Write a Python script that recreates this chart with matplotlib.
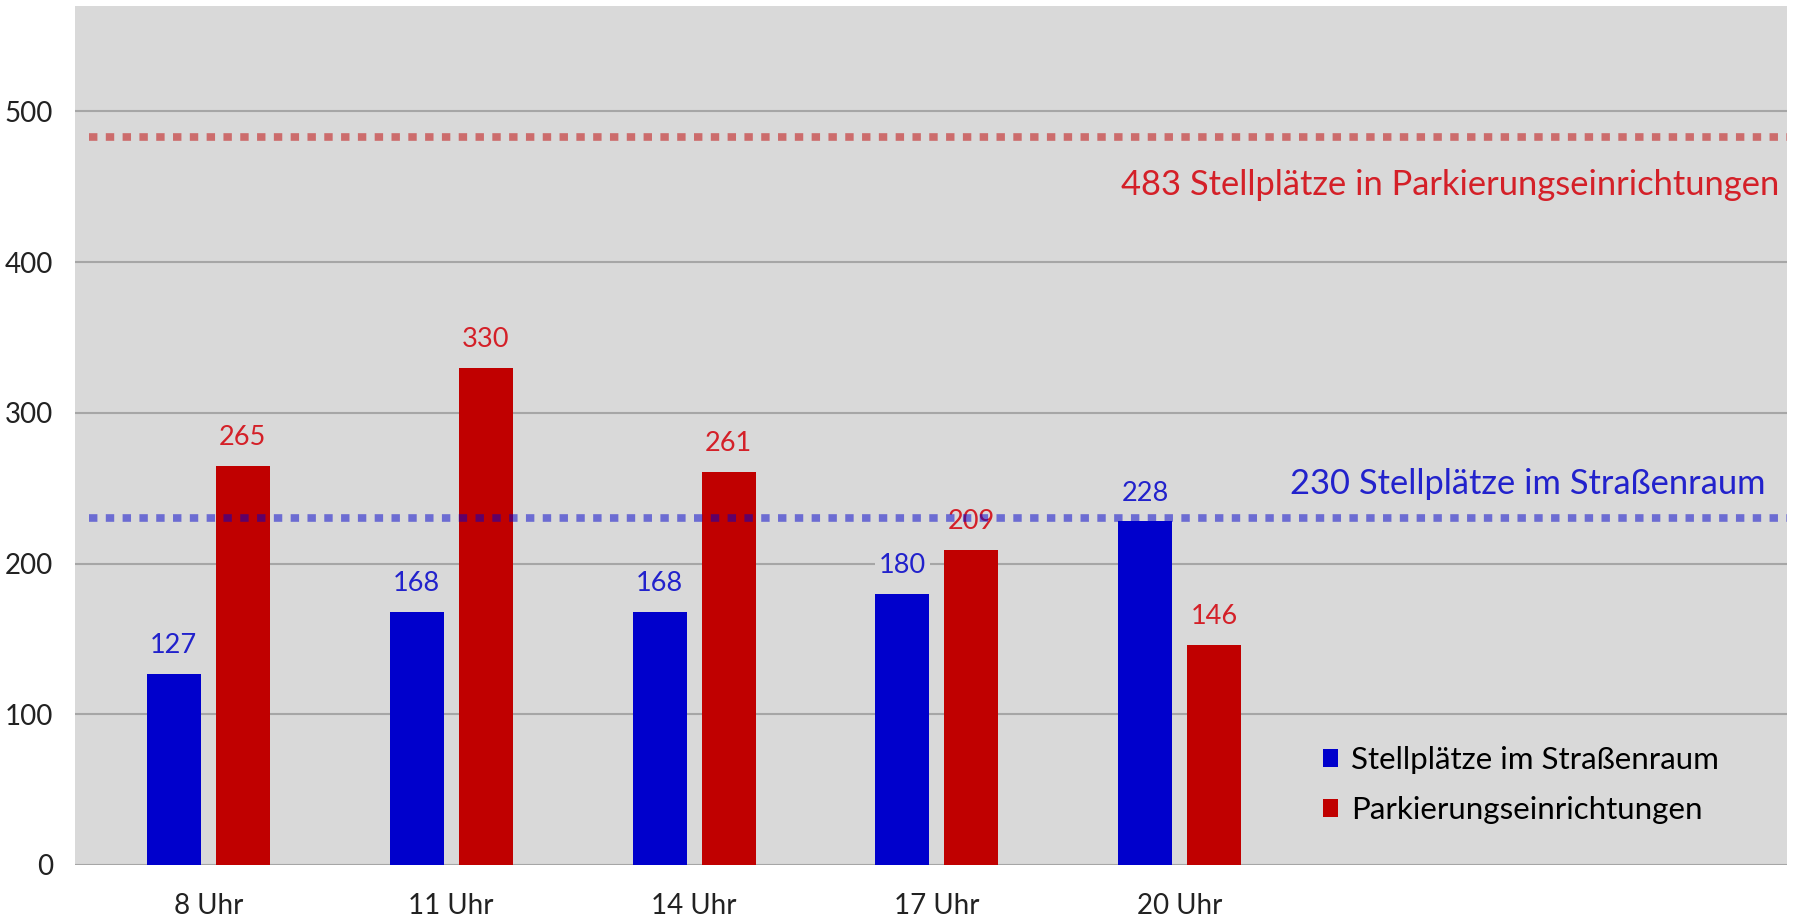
"""Parking occupancy by time of day: street spaces vs. parking facilities."""

import matplotlib.pyplot as plt
import numpy as np

plt.rcParams["font.family"] = ["Lato", "DejaVu Sans"]

times = ["8 Uhr", "11 Uhr", "14 Uhr", "17 Uhr", "20 Uhr"]
street = [127, 168, 168, 180, 228]
facilities = [265, 330, 261, 209, 146]
street_capacity = 230
facility_capacity = 483

BLUE = "#0000cc"
RED = "#c00000"
BLUE_TXT = "#2222cc"
RED_TXT = "#d42028"
BG = "#d9d9d9"

fig = plt.figure(figsize=(17.96, 9.19), dpi=100)
ax = fig.add_axes([0.042, 0.0588, 0.953, 0.9347])
ax.set_facecolor(BG)

x = np.arange(len(times))
w = 0.222
off = 0.142
b1 = ax.bar(x - off, street, w, color=BLUE, zorder=3, label="Stellplätze im Straßenraum")
b2 = ax.bar(x + off, facilities, w, color=RED, zorder=3, label="Parkierungseinrichtungen")

# value labels above each bar
for bars, vals, col in [(b1, street, BLUE_TXT), (b2, facilities, RED_TXT)]:
    for r, v in zip(bars, vals):
        ax.annotate(str(v), (r.get_x() + r.get_width() / 2, v),
                    xytext=(0, 15), textcoords="offset points",
                    ha="center", va="baseline", fontsize=19.5, color=col, zorder=4,
                    bbox=dict(boxstyle="square,pad=0.15", fc=BG, ec="none"))

# capacity lines
ax.axhline(facility_capacity, color=RED, alpha=0.5, lw=5.5,
           ls=(0, (1.1, 1.1)), solid_capstyle="butt", zorder=5, xmin=0.008)
ax.axhline(street_capacity, color=BLUE, alpha=0.5, lw=5.5,
           ls=(0, (1.1, 1.1)), solid_capstyle="butt", zorder=5, xmin=0.008)
ax.text(6.47, 451, f"{facility_capacity} Stellplätze in Parkierungseinrichtungen",
        ha="right", va="center", fontsize=24.8, color=RED_TXT, zorder=6)
ax.text(6.41, 253, f"{street_capacity} Stellplätze im Straßenraum",
        ha="right", va="center", fontsize=24.8, color=BLUE_TXT, zorder=6)

ax.set_xlim(-0.547, 6.5)
ax.set_ylim(0, 570)
ax.set_yticks(range(0, 501, 100))
ax.set_xticks(x)
ax.set_xticklabels(times)
ax.yaxis.grid(True, color="#a6a6a6", lw=1.5, zorder=0)
ax.set_axisbelow(True)
for s in ax.spines.values():
    s.set_visible(False)
ax.tick_params(axis="both", length=0, labelsize=20, colors="#222222")
ax.tick_params(axis="y", pad=16)
ax.tick_params(axis="x", pad=20)

ax.legend(loc="upper left", bbox_to_anchor=(0.7195, 0.157), frameon=False,
          fontsize=22.5, handlelength=0.5, handleheight=0.5, handletextpad=0.4,
          labelspacing=0.72, borderpad=0)

fig.savefig("out.png", dpi=100)
